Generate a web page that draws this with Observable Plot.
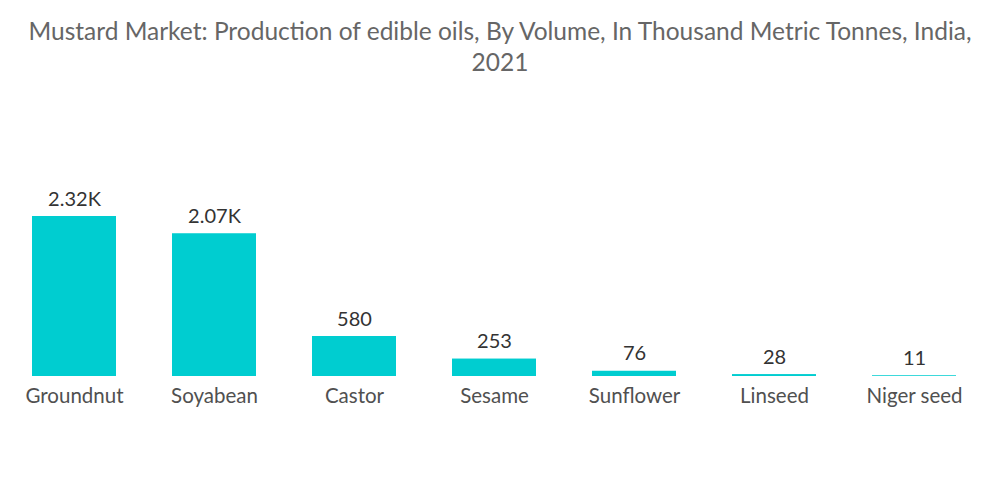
<!DOCTYPE html>
<html>
<head>
<meta charset="utf-8">
<script src="https://cdn.jsdelivr.net/npm/d3@7"></script>
<script src="https://cdn.jsdelivr.net/npm/@observablehq/plot@0.6"></script>
<style>
  html, body { margin: 0; padding: 0; background: #fff; }
  #title { width: 1000px; height: 80px; box-sizing: border-box; padding-top: 15px;
    text-align: center; font-family: Lato, sans-serif; font-weight: 400; font-size: 24.5px; line-height: 31px; color: #666; }
  svg { display: block; }
</style>
</head>
<body>
<div id="title">Mustard Market: Production of edible oils, By Volume, In Thousand Metric Tonnes, India,<br>2021</div>
<div id="chart"></div>
<script>
const categories = ["Groundnut", "Soyabean", "Castor", "Sesame", "Sunflower", "Linseed", "Niger seed"];
const values = [2320, 2070, 580, 253, 76, 28, 11];

const fmt = v => v >= 1000 ? (v / 1000).toFixed(2) + "K" : String(v);
const data = categories.map((c, i) => ({category: c, value: values[i], label: fmt(values[i])}));

const chart = Plot.plot({
  width: 1000,
  height: 424,
  marginTop: 136,
  marginBottom: 128,
  marginLeft: 4,
  marginRight: 16,
  style: {fontFamily: "Lato, sans-serif", background: "#fff"},
  x: {domain: categories, paddingInner: 0.4, paddingOuter: 0.2, label: null},
  y: {domain: [0, 2320], axis: null},
  marks: [
    Plot.barY(data, {x: "category", y: "value", fill: "#00CDD0"}),
    Plot.text(data, {x: "category", y: "value", text: "label", lineAnchor: "bottom", dy: -11, fontSize: 20, fill: "#333"}),
    Plot.axisX({tickSize: 0, tickPadding: 12, fontSize: 20.5, color: "#505050", label: null})
  ]
});
document.getElementById("chart").appendChild(chart);
</script>
</body>
</html>
